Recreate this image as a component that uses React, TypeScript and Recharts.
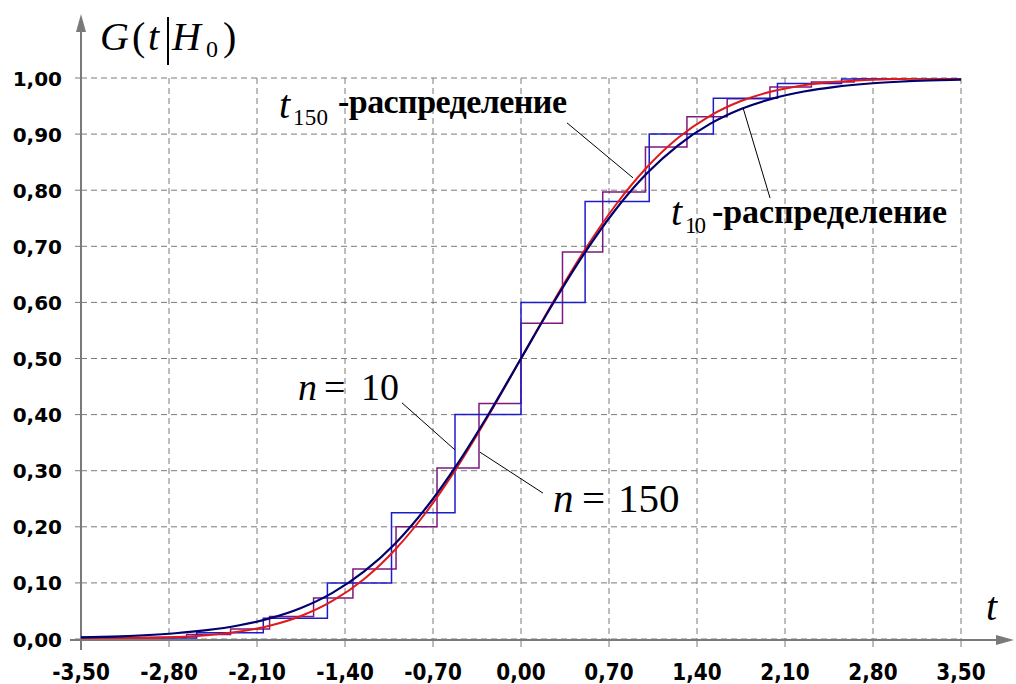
import React from "react";
import {
  ComposedChart,
  Line,
  XAxis,
  YAxis,
  CartesianGrid,
  ReferenceLine,
} from "recharts";

// grid of t used for the two theoretical distribution curves
const T_GRID = [
  -3.5, -3.25, -3.0, -2.75, -2.5, -2.25, -2.0, -1.75, -1.5, -1.25, -1.0, -0.75, -0.5, -0.25, 0.0,
  0.25, 0.5, 0.75, 1.0, 1.25, 1.5, 1.75, 2.0, 2.25, 2.5, 2.75, 3.0, 3.25, 3.5,
];

// t10-распределение
const T10_CDF = [
  0.0029, 0.0043, 0.0067, 0.0102, 0.0157, 0.0241, 0.0367, 0.0553, 0.0823, 0.1199, 0.1704, 0.2353,
  0.314, 0.4038, 0.5, 0.5962, 0.686, 0.7647, 0.8296, 0.8801, 0.9177, 0.9447, 0.9633, 0.9759, 0.9843,
  0.9898, 0.9933, 0.9957, 0.9971,
];

// t150-распределение
const T150_CDF = [
  0.0003, 0.0007, 0.0016, 0.0034, 0.0068, 0.0129, 0.0236, 0.041, 0.0678, 0.1066, 0.1596, 0.2273,
  0.309, 0.4014, 0.5, 0.5986, 0.691, 0.7727, 0.8404, 0.8934, 0.9322, 0.959, 0.9764, 0.9871, 0.9932,
  0.9966, 0.9984, 0.9993, 0.9997,
];

// n = 10 step function
const N10_T = [-3.5, -2.58, -2.05, -1.54, -1.03, -0.525, 0.0, 0.51, 1.02, 1.53, 2.04, 2.55, 3.06, 3.5];
const N10_G = [0.002, 0.011, 0.037, 0.1, 0.225, 0.4, 0.6, 0.78, 0.9, 0.964, 0.99, 0.998, 1.0, 1.0];

// n = 150 step function
const N150_T = [
  -3.5, -2.66, -2.31, -2.0, -1.65, -1.337, -0.994, -0.668, -0.334, 0.0, 0.33, 0.65, 0.99, 1.32, 1.64,
  1.98, 2.31, 2.65, 3.0, 3.5,
];
const N150_G = [
  0.003, 0.008, 0.018, 0.04, 0.073, 0.125, 0.2, 0.305, 0.42, 0.563, 0.69, 0.797, 0.877, 0.931, 0.963,
  0.984, 0.993, 0.998, 1.0, 1.0,
];

const X_TICKS = [-3.5, -2.8, -2.1, -1.4, -0.7, 0, 0.7, 1.4, 2.1, 2.8, 3.5];
const Y_TICKS = [0, 0.1, 0.2, 0.3, 0.4, 0.5, 0.6, 0.7, 0.8, 0.9, 1.0];

const toRows = (ts: number[], vs: number[]) => ts.map((t, i) => ({ t, v: vs[i] }));

const t10Data = toRows(T_GRID, T10_CDF);
const t150Data = toRows(T_GRID, T150_CDF);
const n10Data = toRows(N10_T, N10_G);
const n150Data = toRows(N150_T, N150_G);

const fmt = (v: number) => v.toFixed(2).replace(".", ",");

const GREY = "#7a7a7a";
const SERIF = "Liberation Serif";
const TICK_FONT = "DejaVu Sans";

const XTick = ({ x, y, payload }: any) => (
  <text
    transform={`translate(${x},${y + 33}) scale(1,1.15)`}
    textAnchor="middle"
    fontFamily={TICK_FONT}
    fontWeight="bold"
    fontSize={20}
    fill="#000"
  >
    {fmt(payload.value)}
  </text>
);

const YTick = ({ x, y, payload }: any) => (
  <text
    x={x}
    y={y + 7.5}
    textAnchor="end"
    fontFamily={TICK_FONT}
    fontWeight="bold"
    fontSize={20}
    fill="#000"
  >
    {fmt(payload.value)}
  </text>
);

export default function App() {
  return (
    <div style={{ position: "relative", width: 1016, height: 684, background: "#fff" }}>
      <style>{`body{margin:0}`}</style>

      {/* axes with arrows, behind the chart */}
      <svg width={1016} height={684} style={{ position: "absolute", left: 0, top: 0 }}>
        <line x1={81} y1={650} x2={81} y2={26} stroke={GREY} strokeWidth={2} />
        <polygon points="81,14 76,32 86,32" fill={GREY} />
        <line x1={70} y1={640} x2={1000} y2={640} stroke={GREY} strokeWidth={2} />
        <polygon points="1014,640 996,635 996,645" fill={GREY} />
      </svg>

      <div style={{ position: "absolute", left: 0, top: 0 }}>
        <ComposedChart width={1016} height={684} margin={{ top: 78, right: 55, left: 0, bottom: 0 }}>
          <CartesianGrid stroke={GREY} strokeDasharray="6 4" />
          <XAxis
            type="number"
            dataKey="t"
            domain={[-3.5, 3.5]}
            ticks={X_TICKS}
            interval={0}
            axisLine={false}
            tickLine={{ stroke: GREY }}
            tickSize={8}
            tickMargin={0}
            height={45}
            tick={<XTick />}
            allowDataOverflow
          />
          <YAxis
            type="number"
            domain={[0, 1]}
            ticks={Y_TICKS}
            interval={0}
            axisLine={false}
            tickLine={{ stroke: GREY }}
            tickSize={6}
            tickMargin={13}
            width={81}
            tick={<YTick />}
            allowDataOverflow
          />
          <Line
            data={n150Data}
            dataKey="v"
            type="stepAfter"
            stroke="#7d1a7d"
            strokeWidth={1.5}
            dot={false}
            isAnimationActive={false}
          />
          <Line
            data={n10Data}
            dataKey="v"
            type="stepAfter"
            stroke="#1c1cc8"
            strokeWidth={1.5}
            dot={false}
            isAnimationActive={false}
          />
          <Line
            data={t150Data}
            dataKey="v"
            type="monotone"
            stroke="#e01a1a"
            strokeWidth={2}
            dot={false}
            isAnimationActive={false}
          />
          <Line
            data={t10Data}
            dataKey="v"
            type="monotone"
            stroke="#00006e"
            strokeWidth={2.2}
            dot={false}
            isAnimationActive={false}
          />
          <ReferenceLine segment={[{ x: 0.366, y: 0.92 }, { x: 0.891, y: 0.822 }]} stroke="#000" strokeWidth={1} />
          <ReferenceLine segment={[{ x: 1.766, y: 0.947 }, { x: 1.981, y: 0.786 }]} stroke="#000" strokeWidth={1} />
          <ReferenceLine segment={[{ x: -0.947, y: 0.421 }, { x: -0.525, y: 0.337 }]} stroke="#000" strokeWidth={1} />
          <ReferenceLine segment={[{ x: -0.326, y: 0.333 }, { x: 0.175, y: 0.26 }]} stroke="#000" strokeWidth={1} />
        </ComposedChart>
      </div>

      {/* text annotations */}
      <svg
        width={1016}
        height={684}
        style={{ position: "absolute", left: 0, top: 0, pointerEvents: "none" }}
      >
        <text y={50} fontFamily={SERIF} fontSize={40} fill="#000">
          <tspan x={100} fontStyle="italic">G</tspan>
          <tspan x={132}>(</tspan>
          <tspan x={148} fontStyle="italic">t</tspan>
        </text>
        <line x1={168} y1={17} x2={168} y2={65} stroke="#000" strokeWidth={2} />
        <text x={172} y={50} fontFamily={SERIF} fontSize={40} fontStyle="italic" fill="#000">H</text>
        <text x={206} y={57} fontFamily={SERIF} fontSize={24} fill="#000">0</text>
        <text x={223} y={50} fontFamily={SERIF} fontSize={40} fill="#000">)</text>

        <text x={986} y={620} fontFamily={SERIF} fontSize={40} fontStyle="italic" fill="#000">t</text>

        <text x={279} y={118} fontFamily={SERIF} fontSize={40} fontStyle="italic" fill="#000">t</text>
        <text x={293} y={125} fontFamily={SERIF} fontSize={23} fill="#000" textLength={35}>150</text>
        <text x={338} y={113} fontFamily={SERIF} fontSize={34} fontWeight="bold" fill="#000" textLength={229}>
          -распределение
        </text>

        <text x={671} y={225} fontFamily={SERIF} fontSize={40} fontStyle="italic" fill="#000">t</text>
        <text x={685} y={233} fontFamily={SERIF} fontSize={23} fill="#000" textLength={21}>10</text>
        <text x={712} y={223} fontFamily={SERIF} fontSize={34} fontWeight="bold" fill="#000" textLength={235}>
          -распределение
        </text>

        <text y={400} fontFamily={SERIF} fontSize={38} fill="#000">
          <tspan x={298} fontStyle="italic">n</tspan>
          <tspan x={324}>=</tspan>
          <tspan x={361}>10</tspan>
        </text>
        <text y={512} fontFamily={SERIF} fontSize={41} fill="#000">
          <tspan x={553} fontStyle="italic">n</tspan>
          <tspan x={582}>=</tspan>
          <tspan x={618}>150</tspan>
        </text>
      </svg>
    </div>
  );
}
